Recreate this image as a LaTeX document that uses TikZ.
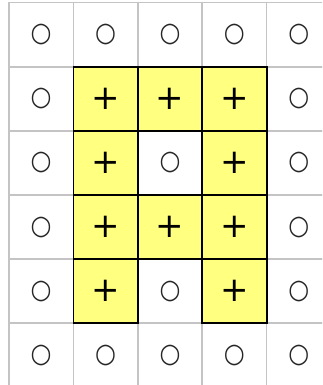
\documentclass[tikz,border=0pt]{standalone}
\usepackage{fontspec}
\setmainfont{DejaVu Sans}
\definecolor{cellyellow}{HTML}{FFFF80}
\definecolor{gridgray}{HTML}{C4C4C4}
\begin{document}
\begin{tikzpicture}[x=1pt,y=-1pt,
  cell/.style={rectangle, minimum width=64.4pt, minimum height=64.1pt, inner sep=0pt, outer sep=0pt,
    draw=gridgray, line width=1.6pt, font=\fontsize{24}{24}\selectfont, text=black!85},
  yel/.style={cell, fill=cellyellow, draw=black, line width=1.8pt, font=\fontsize{34}{34}\selectfont, text=black},
]
\useasboundingbox (0,0) rectangle (322,385);
\clip (0,0) rectangle (322,385);
% plain cells
\foreach \c/\r in {0/0,1/0,2/0,3/0,4/0,
                   0/1,4/1,
                   0/2,2/2,4/2,
                   0/3,4/3,
                   0/4,2/4,4/4,
                   0/5,1/5,2/5,3/5,4/5}{
  \node[cell] (w\c\r) at ({9+64.4*(\c+0.5)},{2.7+64.1*(\r+0.5)}) {\scalebox{1}[1.12]{○}};
}
% yellow cells
\foreach \c/\r in {1/1,2/1,3/1,1/2,3/2,1/3,2/3,3/3,1/4,3/4}{
  \node[yel] (y\c\r) at ({9+64.4*(\c+0.5)},{2.7+64.1*(\r+0.5)}) {+};
}
\end{tikzpicture}
\end{document}
